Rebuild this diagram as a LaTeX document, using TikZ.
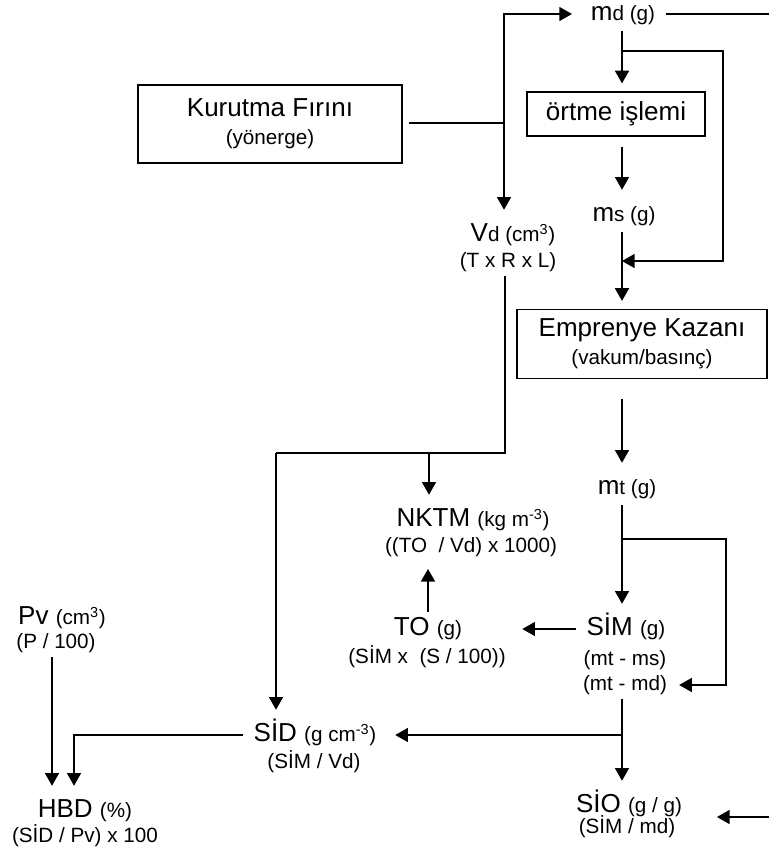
\documentclass[tikz,border=0pt]{standalone}
\usepackage{fontspec}
\setmainfont{Liberation Sans}
\usetikzlibrary{arrows.meta}
\newcommand{\smtxt}[1]{{\fontsize{15.5}{17}\selectfont #1}}
\tikzset{
  Box/.style={draw=black,line width=0.9pt,align=center,inner sep=2pt,
    font=\fontsize{19.5}{21}\selectfont},
  Lbl/.style={inner xsep=8pt,inner ysep=3.5pt,text height=14pt,text depth=4.5pt,
    font=\fontsize{19.5}{22}\selectfont},
  Frm/.style={inner sep=3pt,text height=11pt,text depth=3.5pt,
    font=\fontsize{15.5}{17}\selectfont},
  Ln/.style={line width=1.1pt},
  Arr/.style={line width=1.1pt,-{Triangle[width=10.5pt,length=9.5pt]},shorten >=6pt}
}
\begin{document}
\begin{tikzpicture}[x=0.75pt,y=-0.75pt]
  \useasboundingbox (0,0) rectangle (769,854);
  % boxes
  \node[Box,minimum width=198pt,minimum height=58.5pt] (kurutma) at (270,124)
    {Kurutma Fırını\\\smtxt{(yönerge)}};
  \node[Box,minimum width=133.5pt,minimum height=33pt] (ortme) at (616,114) {örtme işlemi};
  \node[Box,minimum width=187.5pt,minimum height=51.75pt] (emp) at (642,344)
    {Emprenye Kazanı\\\smtxt{(vakum/basınç)}};
  % labels
  \node[Lbl] (md) at (623,14) {m\smtxt{d (g)}};
  \node[Lbl] (ms) at (624,215) {m\smtxt{s (g)}};
  \node[Lbl] (vd) at (513,235) {V\smtxt{d (cm\textsuperscript{3})}};
  \node[Frm] (vdf) at (508,262) {(T x R x L)};
  \node[Lbl] (mt) at (627,488) {m\smtxt{t (g)}};
  \node[Lbl] (nktm) at (473,520) {NKTM \smtxt{(kg m\textsuperscript{-3})}};
  \node[Frm] (nktmf) at (471,547) {((TO~ / Vd) x 1000)};
  \node[Lbl] (to) at (428,629) {TO \smtxt{(g)}};
  \node[Frm] (tof) at (427,658) {(SİM x~ (S / 100))};
  \node[Lbl] (sim) at (626,629) {SİM \smtxt{(g)}};
  \node[Frm] (simf1) at (625,660) {(mt - ms)};
  \node[Frm] (simf2) at (625,685) {(mt - md)};
  \node[Lbl] (pv) at (62,618) {Pv \smtxt{(cm\textsuperscript{3})}};
  \node[Frm] (pvf) at (56,643) {(P / 100)};
  \node[Lbl] (sid) at (315,735) {SİD \smtxt{(g cm\textsuperscript{-3})}};
  \node[Frm] (sidf) at (314,763) {(SİM / Vd)};
  \node[Lbl] (hbd) at (85,811) {HBD \smtxt{(\%)}};
  \node[Frm] (hbdf) at (85,837) {(SİD / Pv) x 100};
  \node[Lbl] (sio) at (629,806) {SİO \smtxt{(g / g)}};
  \node[Frm] (siof) at (627,828) {(SİM / md)};
  % junctions
  \coordinate (jK) at (504,123);
  \coordinate (jD) at (622,51);
  \coordinate (cR1) at (723,261);
  \coordinate (jE) at (622,261);
  \coordinate (jV) at (505,453);
  \coordinate (jN) at (429,453);
  \coordinate (jS) at (276,453);
  \coordinate (jM) at (622,539);
  \coordinate (cR2) at (726,685);
  \coordinate (jB) at (622,735);
  \coordinate (jH) at (74,732);
  \coordinate (jP) at (52,663);
  \coordinate (eT) at (769,14);
  \coordinate (eB) at (769,817);
  % connectors
  \draw[Ln] ([xshift=4.5pt]kurutma.east |- jK) -- (jK);
  \draw[Arr] (jK) |- (md.west);
  \draw[Arr] (jK) -- (jK |- vd.north);
  \draw[Ln] (md.east) -- (eT);
  \draw[Ln] (md.south -| jD) -- (jD);
  \draw[Arr] (jD) -- (jD |- ortme.north);
  \draw[Arr,shorten >=0pt] (jD) -| (cR1) -- (jE);
  \draw[Arr,shorten <=8pt] (ortme.south -| jD) -- (jD |- ms.north);
  \draw[Arr] (ms.south -| jE) -- (jE |- emp.north);
  \draw[Arr,shorten <=15pt] (emp.south -| jD) -- (jD |- mt.north);
  \draw[Ln] (jV |- vdf.south) -- (jV) -- (jS);
  \draw[Arr] (jN) -- (jN |- nktm.north);
  \draw[Arr] (jS) -- (jS |- sid.north);
  \draw[Ln] (mt.south -| jM) -- (jM);
  \draw[Arr] (jM) -- (jM |- sim.north);
  \draw[Arr] (jM) -| (cR2) -- (simf2.east);
  \draw[Arr,shorten >=37pt] (sim.west) -- (to.east);
  \draw[Arr] (to.north) -- (to.north |- nktmf.south);
  \draw[Ln] (simf2.south -| jB) -- (jB);
  \draw[Arr] (jB) -- (jB |- sio.north);
  \draw[Arr] (jB) -- (jB -| sid.east);
  \draw[Arr] (sid.west) -| (jH |- hbd.north);
  \draw[Arr] (jP |- pvf.south) -- (jP |- hbd.north);
  \draw[Arr,shorten >=18pt] (eB) -- (eB -| sio.east);
\end{tikzpicture}
\end{document}
